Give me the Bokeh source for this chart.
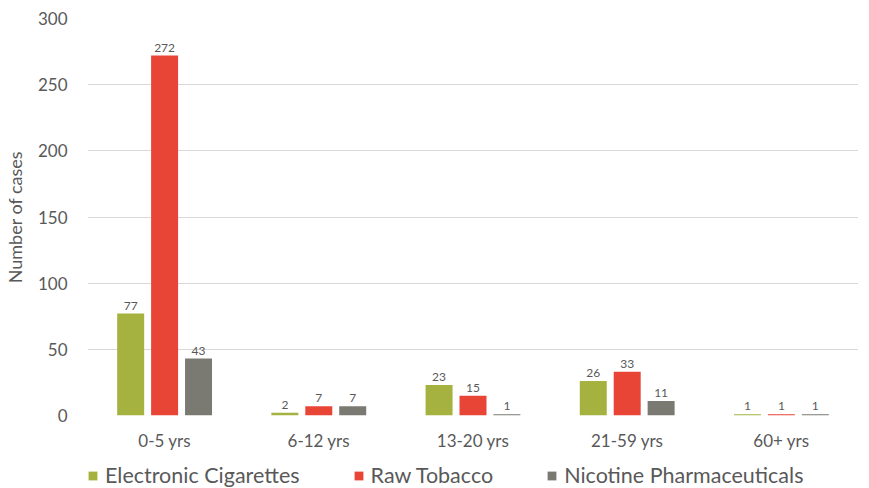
from bokeh.plotting import figure
from bokeh.layouts import column
from bokeh.models import ColumnDataSource, FactorRange, Range1d, LabelSet, Legend, LegendItem, FixedTicker
from bokeh.core.properties import value
from bokeh.transform import dodge
from bokeh.embed import file_html
from bokeh.resources import INLINE

categories = ["0-5 yrs", "6-12 yrs", "13-20 yrs", "21-59 yrs", "60+ yrs"]
series_names = ["Electronic Cigarettes", "Raw Tobacco", "Nicotine Pharmaceuticals"]
ecig = [77, 2, 23, 26, 1]
raw = [272, 7, 15, 33, 1]
pharm = [43, 7, 1, 11, 1]
y_ticks = [0, 50, 100, 150, 200, 250, 300]

colors = ["#A5B240", "#E84536", "#7A7A72"]
offsets = [-0.22, 0.0, 0.22]
bar_w = 0.175
text_col = "#595959"
font = "Lato"

src = ColumnDataSource(dict(
    cat=categories,
    ecig=ecig, raw=raw, pharm=pharm,
    ecig_t=[str(v) for v in ecig],
    raw_t=[str(v) for v in raw],
    pharm_t=[str(v) for v in pharm],
))

p = figure(x_range=FactorRange(factors=categories, range_padding=0),
           y_range=Range1d(0, 300),
           frame_width=771, frame_height=397,
           output_backend="svg", toolbar_location=None,
           min_border_left=87, min_border_right=0, min_border_top=18, min_border_bottom=43)

p.outline_line_color = None
p.background_fill_color = "white"
p.xgrid.grid_line_color = None
p.ygrid.grid_line_color = "#D9D9D9"
p.ygrid.grid_line_width = 1

for key, col, off in zip(["ecig", "raw", "pharm"], colors, offsets):
    p.vbar(x=dodge("cat", off, range=p.x_range), top=key, width=bar_w, source=src,
           fill_color=col, line_color=None)
    lbl = LabelSet(x=dodge("cat", off, range=p.x_range), y=key, text=key + "_t", source=src,
                   text_align="center", text_baseline="bottom", y_offset=4,
                   text_font=value(font), text_font_size=value("12px"), text_color=value(text_col))
    p.add_layout(lbl)

p.yaxis.ticker = FixedTicker(ticks=y_ticks)
p.yaxis.axis_label = "Number of cases"
p.yaxis.axis_label_text_font = font
p.yaxis.axis_label_text_font_size = "18px"
p.yaxis.axis_label_text_font_style = "normal"
p.yaxis.axis_label_text_color = text_col
p.yaxis.axis_label_standoff = 9
for ax in (p.xaxis, p.yaxis):
    ax.axis_line_color = None
    ax.major_tick_line_color = None
    ax.minor_tick_line_color = None
    ax.major_label_text_font = font
    ax.major_label_text_font_size = "17px"
    ax.major_label_text_color = text_col
p.yaxis.major_label_standoff = 14
p.xaxis.major_label_standoff = 8

# legend strip below the chart
lg = figure(x_range=Range1d(0, 1), y_range=Range1d(0, 1),
            width=858, height=30, output_backend="svg", toolbar_location=None,
            x_axis_location=None, y_axis_location=None,
            min_border_left=0, min_border_right=0, min_border_top=0, min_border_bottom=0)
lg.outline_line_color = None
lg.grid.visible = False
items = []
for name, col in zip(series_names, colors):
    r = lg.vbar(x=[0.5], top=[0], bottom=[0], width=0.0, fill_color=col, line_color=None)
    items.append(LegendItem(label=name, renderers=[r]))
legend = Legend(items=items, orientation="horizontal", location=(0, 0),
                label_text_font=font, label_text_font_size="21.5px", label_text_color=text_col,
                glyph_width=11, glyph_height=11, label_standoff=7, spacing=53, label_height=20,
                padding=0, margin=0, border_line_color=None, background_fill_alpha=0)
lg.add_layout(legend, "center")

layout = column(p, lg, spacing=0)
open("out.html", "w").write(file_html(layout, INLINE))
